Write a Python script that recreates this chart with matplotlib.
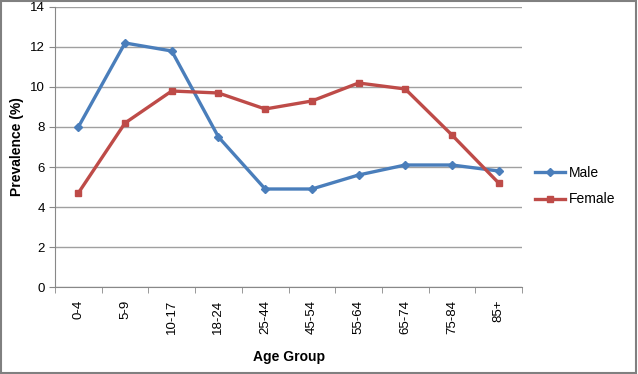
import matplotlib.pyplot as plt
from matplotlib.patches import Rectangle

# data
age_groups = ["0-4", "5-9", "10-17", "18-24", "25-44", "45-54", "55-64", "65-74", "75-84", "85+"]
male = [8.0, 12.2, 11.8, 7.5, 4.9, 4.9, 5.6, 6.1, 6.1, 5.8]
female = [4.7, 8.2, 9.8, 9.7, 8.9, 9.3, 10.2, 9.9, 7.6, 5.2]
y_ticks = [0, 2, 4, 6, 8, 10, 12, 14]

plt.rcParams["font.family"] = ["Liberation Sans", "DejaVu Sans"]

fig = plt.figure(figsize=(6.38, 3.74), dpi=100)
ax = fig.add_axes([0.0862, 0.2326, 0.732, 0.7487])

x = list(range(len(age_groups)))
ax.plot(x, male, color="#4a7ebb", marker="D", markersize=4.5, linewidth=2.4, label="Male")
ax.plot(x, female, color="#be4b48", marker="s", markersize=4.5, linewidth=2.4, label="Female")

ax.set_xlim(-0.5, len(age_groups) - 0.5)
ax.set_ylim(0, 14)
ax.set_yticks(y_ticks)
ax.set_xticks(x)
ax.set_xticklabels(age_groups, rotation=90, fontsize=9.5)
ax.set_xticks([i - 0.5 for i in range(len(age_groups) + 1)], minor=True)
ax.tick_params(axis="x", which="major", length=0, pad=9)
ax.tick_params(axis="x", which="minor", length=4, color="#888888")
ax.tick_params(axis="y", length=4, color="#888888", labelsize=9.5)
ax.yaxis.grid(True, color="#a0a0a0", linewidth=1)
ax.set_axisbelow(True)

for side in ["top", "right"]:
    ax.spines[side].set_visible(False)
for side in ["left", "bottom"]:
    ax.spines[side].set_color("#888888")

ax.set_ylabel("Prevalence (%)", fontsize=10, fontweight="bold", labelpad=4)
ax.set_xlabel("Age Group", fontsize=10, fontweight="bold", labelpad=12)

ax.legend(loc="center left", bbox_to_anchor=(1.0, 0.36), frameon=False,
          fontsize=10, handlelength=2.2, handletextpad=0.3, labelspacing=0.9)

# gray frame around the picture
fig.patches.append(Rectangle((0.002, 0.003), 0.995, 0.994, transform=fig.transFigure,
                             fill=False, edgecolor="#808080", linewidth=1.5))

fig.savefig("out.png", dpi=100)
